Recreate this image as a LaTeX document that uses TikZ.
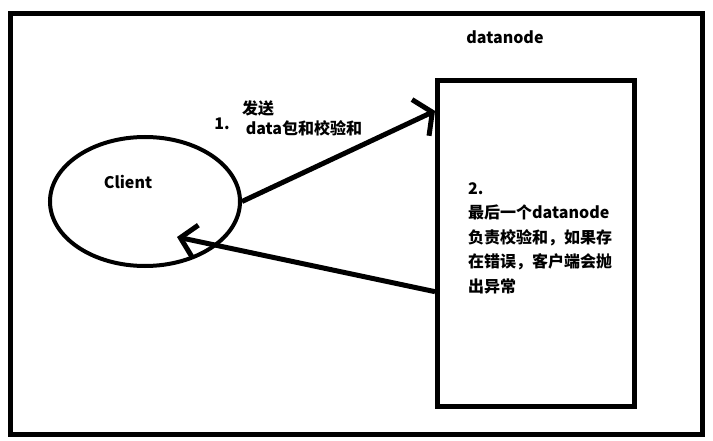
\documentclass[tikz,border=0pt]{standalone}
\usepackage{fontspec}
\setmainfont{Noto Sans CJK SC}
\usetikzlibrary{arrows.meta,calc,shapes.geometric}

\begin{document}
\begin{tikzpicture}[x=1pt,y=-1pt,
  lbl/.style={font=\fontsize{16}{24.5}\selectfont\bfseries,inner sep=0pt},
  flow/.style 2 args={line width=5pt,-{Straight Barb[length=#1,width=#2]}}]
\useasboundingbox (0,0) rectangle (713,441);
% outer frame
\draw[line width=5pt] (10.5,13.5) rectangle (702.5,434.5);
% client and datanode
\node[draw,ellipse,line width=4pt,minimum width=190pt,minimum height=129pt,inner sep=0pt] (client) at (145,201.5) {};
\node[lbl] (clientlbl) at (128,182) {Client};
\node[draw,line width=5pt,minimum width=197pt,minimum height=325.5pt,inner sep=0pt] (dn) at (536,243.75) {};
\node[lbl] (dnlbl) at (505,37) {datanode};
% step labels
\node[lbl] (one) at (222,124) {1.};
\node[lbl] (send) at (258,108) {发送};
\node[lbl] (pkt) at (304,128) {data包和校验和};
\node[lbl,align=left,anchor=north west] (two) at (468,182)
  {2.\\最后一个datanode\\负责校验和，如果存\\在错误，客户端会抛\\出异常};
% arrows
\coordinate (back) at (177,237);
\draw[flow={13pt}{40pt}] (client.east) -- ($(dn.north west)!0.098!(dn.south west)$);
\draw[flow={15pt}{32pt}] ($(dn.north west)!0.645!(dn.south west)$) -- (back);
\end{tikzpicture}
\end{document}
